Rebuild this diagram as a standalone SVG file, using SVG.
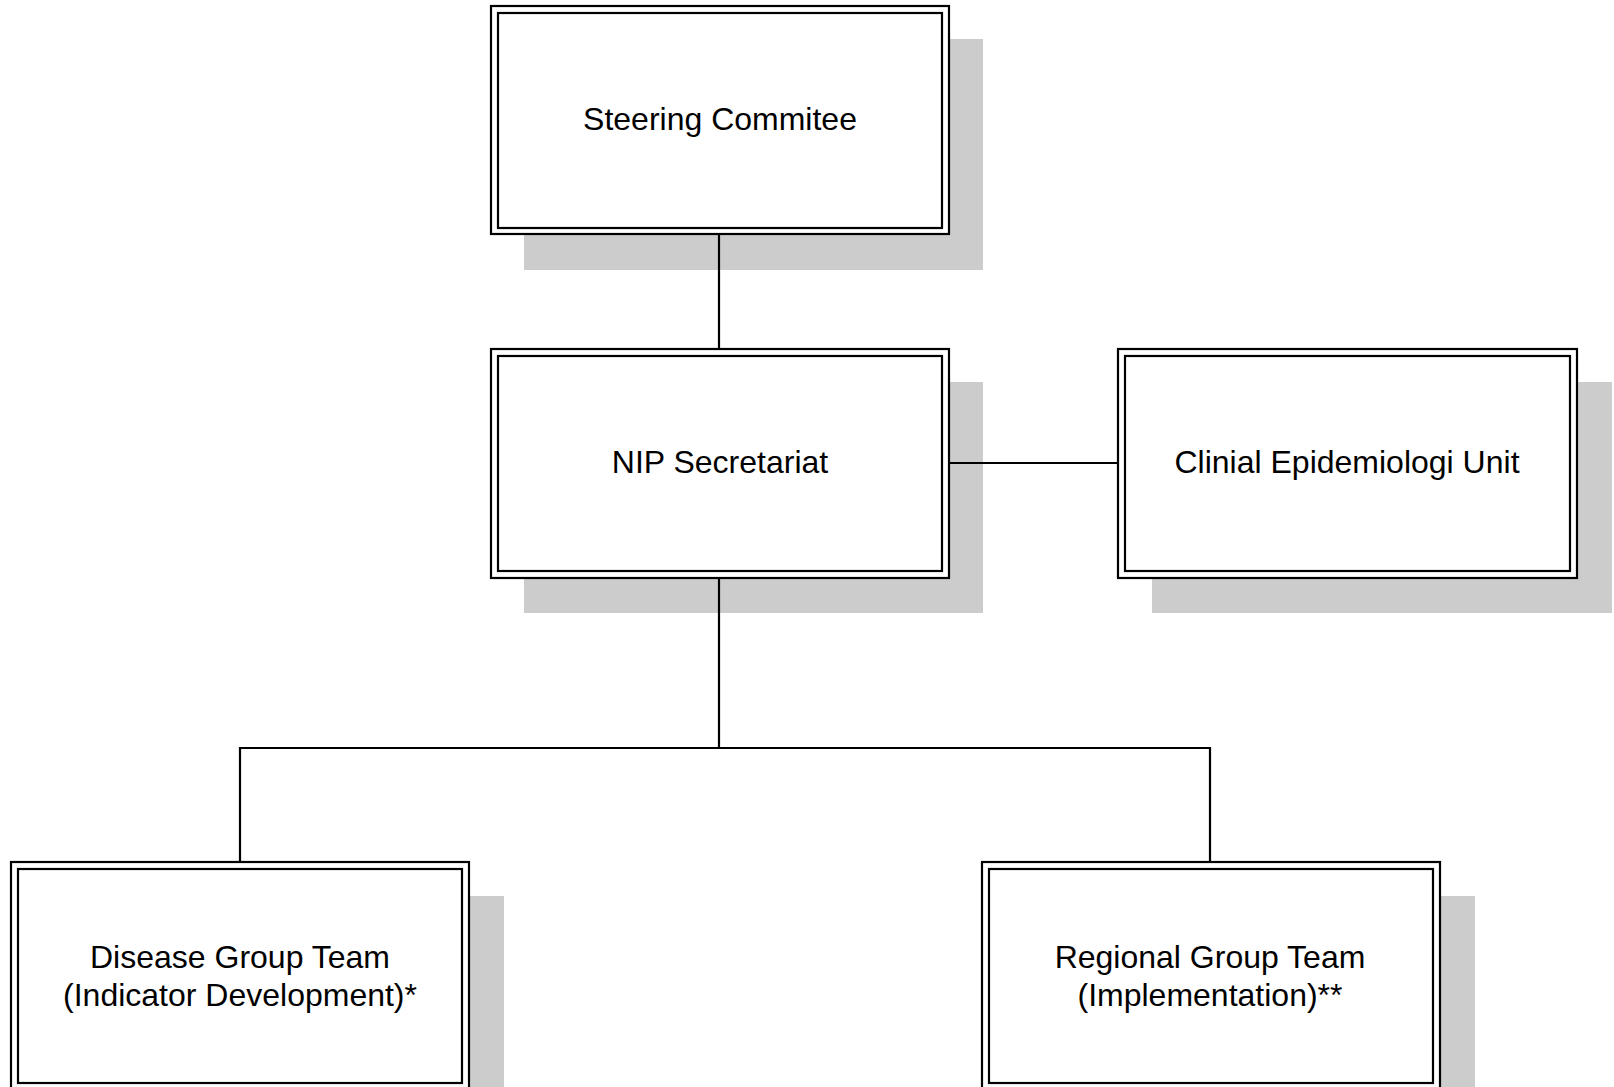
<svg xmlns="http://www.w3.org/2000/svg" width="1614" height="1087" viewBox="0 0 1614 1087">
<style>
.shadow{fill:#cccccc;stroke:none}
.outer{fill:#ffffff;stroke:#000;stroke-width:2.2}
.inner{fill:none;stroke:#000;stroke-width:2.2}
.lbl{font-family:"Liberation Sans",Arial,sans-serif;font-size:32px;fill:#000;text-anchor:middle}
.conn{stroke:#000;stroke-width:2.2;fill:none}
</style>
<rect width="1614" height="1087" fill="#ffffff"/>
<g id="steering">
<rect class="shadow" x="524" y="39" width="459" height="231"/>
<rect class="outer" x="491" y="6" width="458" height="228"/>
<rect class="inner" x="498" y="13" width="444" height="215"/>
<text class="lbl" x="720" y="130">Steering Commitee</text>
</g>
<g id="nip">
<rect class="shadow" x="524" y="382" width="459" height="231"/>
<rect class="outer" x="491" y="349" width="458" height="229"/>
<rect class="inner" x="498" y="356" width="444" height="215"/>
<text class="lbl" x="720" y="473">NIP Secretariat</text>
</g>
<g id="clinial">
<rect class="shadow" x="1152" y="382" width="460" height="231"/>
<rect class="outer" x="1118" y="349" width="459" height="229"/>
<rect class="inner" x="1125" y="356" width="445" height="215"/>
<text class="lbl" x="1347" y="473">Clinial Epidemiologi Unit</text>
</g>
<g id="disease">
<rect class="shadow" x="45" y="896" width="459" height="231"/>
<rect class="outer" x="11" y="862" width="458" height="228"/>
<rect class="inner" x="18" y="869" width="444" height="214"/>
<text class="lbl" x="240" y="968">Disease Group Team</text>
<text class="lbl" x="240" y="1006">(Indicator Development)*</text>
</g>
<g id="regional">
<rect class="shadow" x="1016" y="896" width="459" height="231"/>
<rect class="outer" x="982" y="862" width="458" height="228"/>
<rect class="inner" x="989" y="869" width="444" height="214"/>
<text class="lbl" x="1210" y="968">Regional Group Team</text>
<text class="lbl" x="1210" y="1006">(Implementation)**</text>
</g>
<g id="connectors">
<line class="conn" x1="719" y1="235" x2="719" y2="348"/>
<line class="conn" x1="950" y1="463" x2="1117" y2="463"/>
<polyline class="conn" points="719,579 719,748"/>
<polyline class="conn" points="240,861 240,748 1210,748 1210,861"/>
</g>
</svg>
